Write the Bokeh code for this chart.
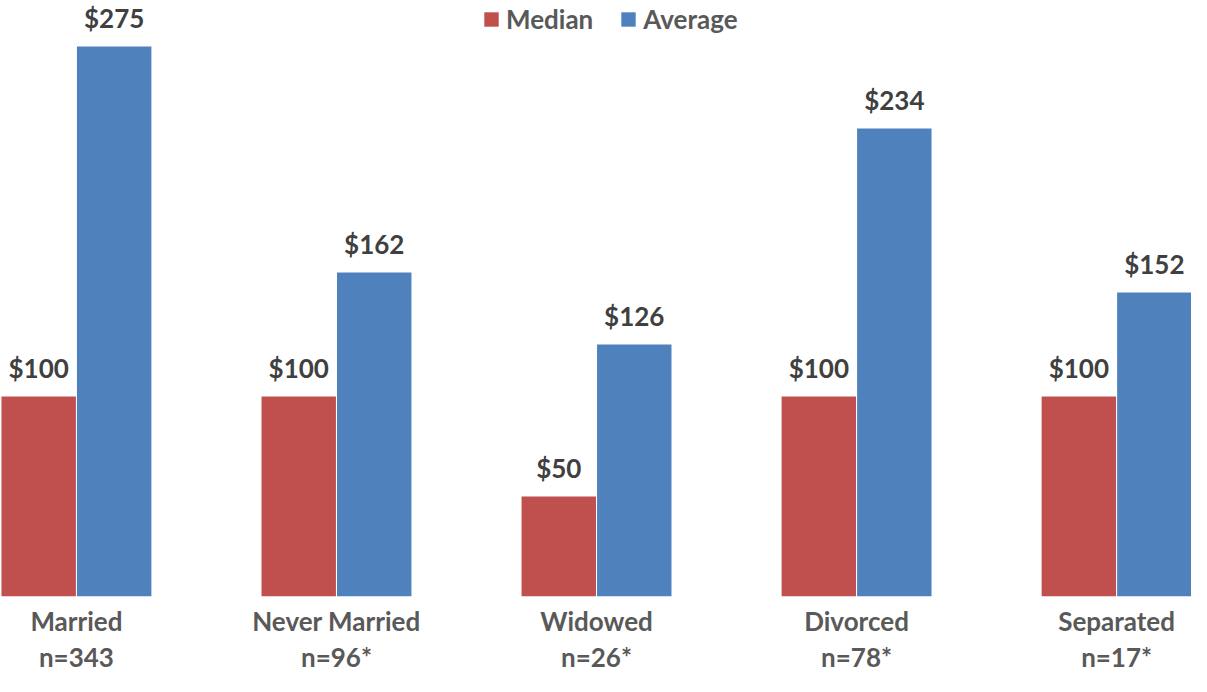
import numpy as np
from bokeh.plotting import figure
from bokeh.models import ColumnDataSource, Range1d, FixedTicker, LabelSet, Legend, LegendItem
from bokeh.transform import dodge
from bokeh.core.properties import value
from bokeh.embed import file_html
from bokeh.resources import INLINE

categories = ["Married", "Never Married", "Widowed", "Divorced", "Separated"]
sample_sizes = ["n=343", "n=96*", "n=26*", "n=78*", "n=17*"]
median = [100, 100, 50, 100, 100]
average = [275, 162, 126, 234, 152]

FONT = "Lato"
RED = "#C0504D"
BLUE = "#4F81BD"

x = np.arange(len(categories))
src = ColumnDataSource(dict(
    x=x,
    median=median,
    average=average,
    median_lbl=[f"${v}" for v in median],
    average_lbl=[f"${v}" for v in average],
))

p = figure(width=1191, height=676, output_backend="svg", toolbar_location=None,
           x_range=Range1d(-0.292, 4.288), y_range=Range1d(0, 298),
           min_border_left=0, min_border_right=0, min_border_top=0, min_border_bottom=60)
p.outline_line_color = None
p.background_fill_color = "white"
p.border_fill_color = "white"
p.grid.visible = False
p.yaxis.visible = False

bw = 0.2863
off = bw / 2 + 0.002
r1 = p.vbar(x=dodge("x", -off, range=p.x_range), top="median", width=bw, bottom=0,
            source=src, fill_color=RED, line_color=None)
r2 = p.vbar(x=dodge("x", off, range=p.x_range), top="average", width=bw, bottom=0,
            source=src, fill_color=BLUE, line_color=None)

for col, lbl, sign in (("median", "median_lbl", -1), ("average", "average_lbl", 1)):
    ls = LabelSet(x=dodge("x", sign * off, range=p.x_range), y=col, text=lbl, source=src,
                  y_offset=19, text_align="center", text_baseline="alphabetic",
                  text_font=value(FONT), text_font_style="bold", text_font_size="26px",
                  text_color="#404040")
    p.add_layout(ls)

ax = p.xaxis[0]
ax.ticker = FixedTicker(ticks=list(x))
ax.major_label_overrides = {int(i): f"{c}\n{n}" for i, c, n in zip(x, categories, sample_sizes)}
ax.axis_line_color = None
ax.major_tick_line_color = None
ax.minor_tick_line_color = None
ax.major_tick_in = 0
ax.major_tick_out = 0
ax.major_label_standoff = 8
ax.major_label_text_font = FONT
ax.major_label_text_font_style = "bold"
ax.major_label_text_font_size = "26px"
ax.major_label_text_line_height = 1.15
ax.major_label_text_color = "#595959"

legend = Legend(items=[LegendItem(label="Median", renderers=[r1]),
                       LegendItem(label="Average", renderers=[r2])],
                orientation="horizontal", location=(482, 561),
                border_line_color=None, background_fill_alpha=0,
                glyph_width=18, glyph_height=18, spacing=26, margin=0, padding=0,
                label_text_font=FONT, label_text_font_style="bold",
                label_text_font_size="26px", label_text_color="#595959",
                label_standoff=6)
p.add_layout(legend, "center")

open("out.html", "w").write(file_html(p, INLINE))
